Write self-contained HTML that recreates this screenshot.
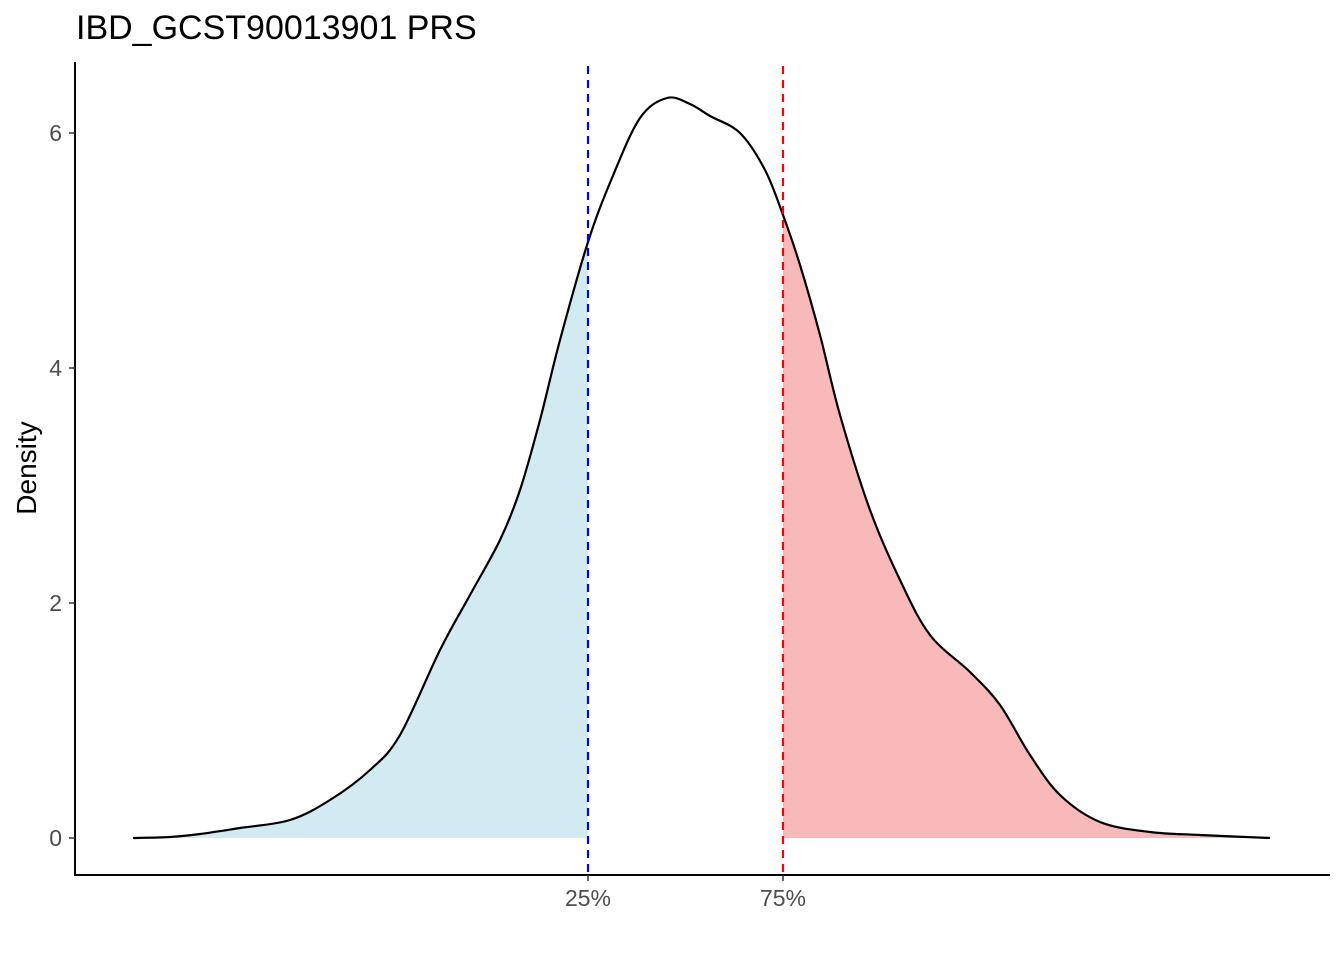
<!DOCTYPE html>
<html><head><style>
body{margin:0;background:#fff;}
svg text{font-family:"Liberation Sans",Arial,sans-serif;}
</style></head><body>
<svg id="s" width="1344" height="960" xmlns="http://www.w3.org/2000/svg">
<defs>
<clipPath id="cl"><rect x="0" y="0" width="588" height="960"/></clipPath>
<clipPath id="cr"><rect x="783" y="0" width="600" height="960"/></clipPath>
</defs>
<path id="fl" clip-path="url(#cl)" fill="#add8e6" fill-opacity="0.55" stroke="none"/>
<path id="fr" clip-path="url(#cr)" fill="#f08080" fill-opacity="0.55" stroke="none"/>
<path id="ln" fill="none" stroke="#000" stroke-width="2.2"/>
<line x1="588" y1="66" x2="588" y2="875" stroke="#0000ff" stroke-width="2.2" stroke-dasharray="8,6"/>
<line x1="783" y1="66" x2="783" y2="875" stroke="#ff0000" stroke-width="2.2" stroke-dasharray="8,6"/>
<line x1="75" y1="62" x2="75" y2="876" stroke="#000" stroke-width="2"/>
<line x1="74" y1="875" x2="1330" y2="875" stroke="#000" stroke-width="2"/>
<g stroke="#333" stroke-width="1.5">
<line x1="69" y1="838" x2="75" y2="838"/><line x1="69" y1="603" x2="75" y2="603"/>
<line x1="69" y1="368" x2="75" y2="368"/><line x1="69" y1="133" x2="75" y2="133"/>
<line x1="588" y1="875" x2="588" y2="881"/><line x1="783" y1="875" x2="783" y2="881"/>
</g>
<g font-size="23" fill="#4d4d4d" text-anchor="end">
<text x="62" y="846">0</text><text x="62" y="611">2</text><text x="62" y="376">4</text><text x="62" y="141">6</text>
</g>
<g font-size="23" fill="#4d4d4d" text-anchor="middle">
<text x="588" y="906">25%</text><text x="783" y="906">75%</text>
</g>
<text x="36" y="468" font-size="28" text-anchor="middle" transform="rotate(-90 36 468)">Density</text>
<text x="76" y="39" font-size="34">IBD_GCST90013901 PRS</text>
</svg>
<script>
var p=[[133,838],[170,837],[200,834],[240,828],[290,820],[330,800],[370,770],[400,735],[440,650],[470,595],[500,540],[520,490],[540,420],[560,340],[588,242],[612,178],[640,118],[667,98],[690,104],[710,116],[740,133],[765,170],[783,215],[800,265],[820,335],[840,415],[870,510],[900,580],[930,635],[970,672],[1000,705],[1030,755],[1060,795],[1100,822],[1150,832],[1200,835],[1270,838]];
var d="M"+p[0][0]+","+p[0][1];
for(var i=0;i<p.length-1;i++){var a=p[Math.max(i-1,0)],b=p[i],c=p[i+1],e=p[Math.min(i+2,p.length-1)];
d+=" C"+(b[0]+(c[0]-a[0])/6)+","+(b[1]+(c[1]-a[1])/6)+" "+(c[0]-(e[0]-b[0])/6)+","+(c[1]-(e[1]-b[1])/6)+" "+c[0]+","+c[1];}
document.getElementById("ln").setAttribute("d",d);
document.getElementById("fl").setAttribute("d",d+" L1270,838 Z");
document.getElementById("fr").setAttribute("d",d+" L133,838 Z");
</script>
</body></html>
